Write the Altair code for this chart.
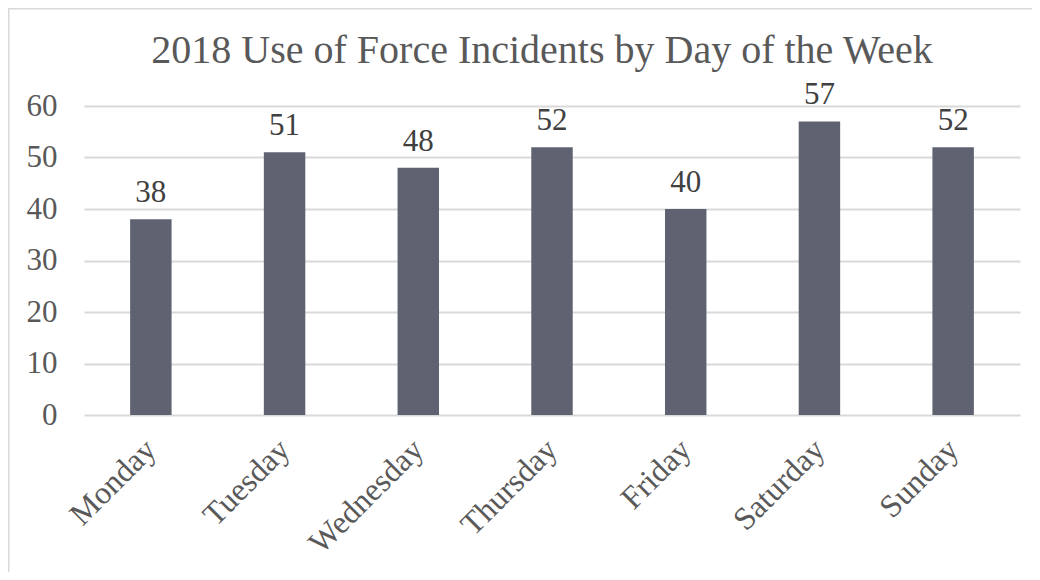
import altair as alt
import pandas as pd

days = ["Monday", "Tuesday", "Wednesday", "Thursday", "Friday", "Saturday", "Sunday"]
incidents = [38, 51, 48, 52, 40, 57, 52]
title_text = ["2018 Use of Force Incidents by Day of the Week"]

df = pd.DataFrame({"day": days, "count": incidents})
tdf = pd.DataFrame({"title": title_text})

FONT = "Liberation Serif"
TXT = "#595959"

base = alt.Chart(df).encode(
    x=alt.X("day:N", sort=days, title=None,
            scale=alt.Scale(paddingInner=0.69, paddingOuter=0.345),
            axis=alt.Axis(labelAngle=-45, labelAlign="right", labelBaseline="middle",
                          labelFontSize=32, labelFont=FONT, labelColor=TXT,
                          labelPadding=29, ticks=False, domain=False, labelFontWeight="normal")),
    y=alt.Y("count:Q", title=None,
            scale=alt.Scale(domain=[0, 60], nice=False),
            axis=alt.Axis(values=[0, 10, 20, 30, 40, 50, 60], labelFontSize=31, labelFont=FONT,
                          labelColor=TXT, labelPadding=27, ticks=False, domain=False,
                          gridColor="#d9d9d9", gridWidth=2)),
)

bars = base.mark_bar(color="#5f6270")
labels = base.mark_text(baseline="alphabetic", dy=-17, font=FONT, fontSize=31, color="#404040").encode(
    text="count:Q")

border_top = alt.Chart(tdf).mark_rule(color="#d9d9d9", strokeWidth=2, clip=False).encode(
    x=alt.value(-76), x2=alt.value(1100), y=alt.value(-97.5))
border_left = alt.Chart(tdf).mark_rule(color="#d9d9d9", strokeWidth=2, clip=False).encode(
    x=alt.value(-75.5), y=alt.value(-98), y2=alt.value(600))

title = alt.Chart(tdf).mark_text(font=FONT, fontSize=40, color=TXT, align="center",
                                 baseline="alphabetic").encode(
    x=alt.value(458), y=alt.value(-43), text="title:N")

chart = alt.layer(border_top, border_left, bars, labels, title).properties(
    width=936, height=309,
    autosize=alt.AutoSizeParams(type="none"),
    padding={"left": 76, "top": 98, "right": 12, "bottom": 157},
).configure_view(stroke=None)

chart.save("out.html", embed_options={"renderer": "svg", "actions": False})
